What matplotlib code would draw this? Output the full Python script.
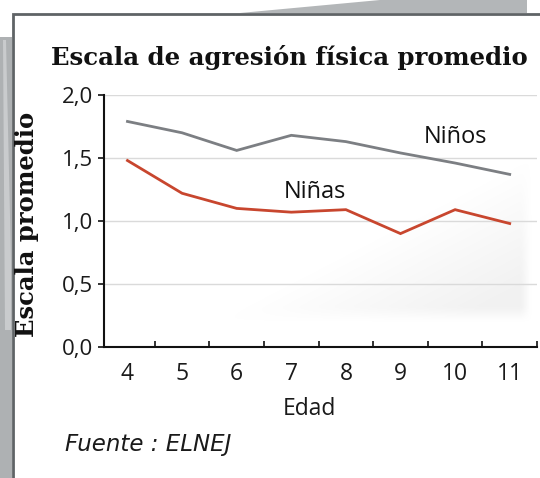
import numpy as np
import matplotlib
matplotlib.use("Agg")
import matplotlib.pyplot as plt
from matplotlib.patches import Rectangle, Polygon

# ---- data ----
ages = [4, 5, 6, 7, 8, 9, 10, 11]
ninos = [1.79, 1.70, 1.56, 1.68, 1.63, 1.54, 1.46, 1.37]
ninas = [1.48, 1.22, 1.10, 1.07, 1.09, 0.90, 1.09, 0.98]
yticks = [0.0, 0.5, 1.0, 1.5, 2.0]
ytick_labels = ["0,0", "0,5", "1,0", "1,5", "2,0"]
title = "Escala de agresión física promedio"
ylabel = "Escala promedio"
xlabel = "Edad"
source = "Fuente : ELNEJ"
label_ninos = "Niños"
label_ninas = "Niñas"

W, H = 540, 478
fig = plt.figure(figsize=(W / 100, H / 100), dpi=100)
fig.patch.set_facecolor("white")

def fx(px):
    return px / W

def fy(py):
    return 1 - py / H

# background decorations
fig.patches.append(Polygon([(fx(240), fy(13)), (fx(380), fy(0)), (fx(527), fy(0)), (fx(527), fy(13))],
                           closed=True, transform=fig.transFigure, facecolor="#b3b6b8", edgecolor="none", zorder=0))
fig.patches.append(Polygon([(fx(0), fy(37)), (fx(12), fy(37)), (fx(12), fy(478)), (fx(0), fy(478))],
                           closed=True, transform=fig.transFigure, facecolor="#aeb1b3", edgecolor="none", zorder=0))
fig.patches.append(Polygon([(fx(3), fy(40)), (fx(6), fy(40)), (fx(11), fy(260)), (fx(11), fy(330)), (fx(5), fy(330))],
                           closed=True, transform=fig.transFigure, facecolor="#c9cbcd", edgecolor="none", zorder=0))
# white panel with border
fig.patches.append(Rectangle((fx(12.5), -0.1), 1.2, fy(13.5) + 0.1, transform=fig.transFigure,
                             facecolor="white", edgecolor="#5f6366", linewidth=2.0, zorder=1))

AX_L, AX_R, AX_T, AX_B = 104, 537, 95, 347
ax = fig.add_axes([fx(AX_L), fy(AX_B), (AX_R - AX_L) / W, (AX_B - AX_T) / H])
ax.set_facecolor("none")
ax.set_zorder(2)

# soft halftone-like shading in the lower right (decoration)
ny, nx = 126, 216
U, V = np.meshgrid(np.linspace(AX_L, AX_R, nx), np.linspace(AX_B, AX_T, ny))
p0 = np.array([240.0, 310.0]); p1 = np.array([520.0, 165.0])
d = p1 - p0
n = np.array([d[1], -d[0]]) / np.hypot(*d)
dist = -((U - p0[0]) * n[0] + (V - p0[1]) * n[1])
a = np.clip(dist / 110.0, 0, 1)
a *= np.clip((322 - V) / 14.0, 0, 1)
a *= np.clip((532 - U) / 10.0, 0, 1)
img = np.zeros((ny, nx, 4))
img[..., :3] = 0.85
img[..., 3] = a * 0.35
ax.imshow(img, extent=[0, 1, 0, 1], transform=ax.transAxes, origin="lower",
          aspect="auto", zorder=0, interpolation="bilinear")

ax.set_xlim(3.57, 11.5)
ax.set_ylim(0, 2.0)

for yv in yticks[1:]:
    ax.axhline(yv, color="#dadada", linewidth=1.0, zorder=1)

ax.plot(ages, ninos, color="#7c7f83", linewidth=2.0, zorder=3, solid_joinstyle="miter")
ax.plot(ages, ninas, color="#c8462e", linewidth=2.0, zorder=3, solid_joinstyle="miter")

sans = ["Open Sans", "DejaVu Sans"]
ax.text(10.0, 1.62, label_ninos, fontsize=17, family=sans, color="#111111", ha="center", va="baseline", zorder=4)
ax.text(7.43, 1.18, label_ninas, fontsize=17, family=sans, color="#111111", ha="center", va="baseline", zorder=4)

for s in ["top", "right"]:
    ax.spines[s].set_visible(False)
for s in ["left", "bottom"]:
    ax.spines[s].set_linewidth(1.5)
    ax.spines[s].set_color("#111111")

ax.set_yticks(yticks)
ax.set_yticklabels(ytick_labels, family=sans, fontsize=16, color="#1a1a1a")
ax.tick_params(axis="y", direction="out", length=4, width=1.2, pad=4, color="#111111")

ax.set_xticks(ages)
ax.set_xticklabels([str(a) for a in ages], family=sans, fontsize=16.5, color="#1a1a1a")
ax.tick_params(axis="x", which="major", length=0, pad=11)
ax.set_xticks([a + 0.5 for a in ages], minor=True)
ax.tick_params(axis="x", which="minor", direction="in", length=4, width=1.2, color="#111111")

ax.set_xlabel(xlabel, family=sans, fontsize=16.5, color="#1a1a1a")
ax.xaxis.set_label_coords((309 - AX_L) / (AX_R - AX_L), -(409 - AX_B) / (AX_B - AX_T), transform=ax.transAxes)
ax.xaxis.label.set_va("center")

fig.text(fx(289), fy(57), title, family="DejaVu Serif", fontweight="bold", fontsize=17.6,
         ha="center", va="center", color="#111111", zorder=3)
fig.text(fx(27), fy(224), ylabel, family="DejaVu Serif", fontweight="bold", fontsize=17.5,
         rotation=90, ha="center", va="center", color="#111111", zorder=3)
fig.text(fx(65), fy(444), source, family=["DejaVu Sans"], style="italic", fontsize=16.5,
         ha="left", va="center", color="#1a1a1a", zorder=3)

fig.savefig("out.png", dpi=100, facecolor=fig.get_facecolor())
